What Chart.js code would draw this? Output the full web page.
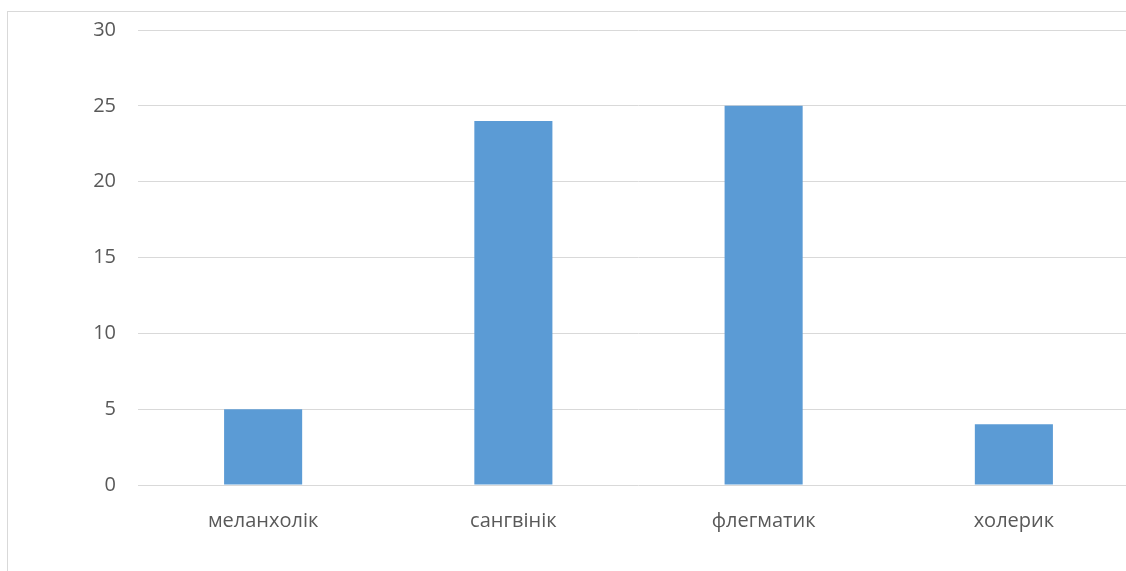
<!DOCTYPE html>
<html>
<head>
<meta charset="utf-8">
<script src="https://cdn.jsdelivr.net/npm/chart.js@4"></script>
<style>
  body { margin: 0; overflow: hidden; background: #fff; }
  #frame { position: absolute; left: 7px; top: 11px; width: 1300px; height: 700px; border: 1px solid #d9d9d9; }
  #mainChart { position: absolute; left: 0; top: -4px; }
</style>
</head>
<body>
<div id="frame"></div>
<canvas id="mainChart" width="1140" height="575"></canvas>
<script>
const categories = ['меланхолік', 'сангвінік', 'флегматик', 'холерик'];
const values = [5, 24, 25, 4];
const yTicks = [0, 5, 10, 15, 20, 25, 30];

const config = {
  type: 'bar',
  data: {
    labels: categories,
    datasets: [{
      data: values,
      backgroundColor: '#5b9bd5',
      categoryPercentage: 1,
      barPercentage: 0.312
    }]
  },
  options: {
    responsive: false,
    animation: false,
    layout: { padding: { top: 23, right: 1, left: 0, bottom: 0 } },
    plugins: { legend: { display: false }, tooltip: { enabled: false } },
    scales: {
      x: {
        grid: { display: false },
        border: { display: false },
        ticks: { color: '#595959', font: { family: 'Open Sans', size: 20 }, padding: 16 },
        afterFit: function(scale) { scale.height = 86; }
      },
      y: {
        min: 0,
        max: 30,
        afterBuildTicks: function(scale) { scale.ticks = yTicks.map(v => ({ value: v })); },
        grid: { color: '#d9d9d9', lineWidth: 1, drawTicks: false },
        border: { display: false },
        ticks: { color: '#595959', font: { family: 'Open Sans', size: 20 }, padding: 22 },
        afterFit: function(scale) { scale.width = 138; }
      }
    }
  }
};

new Chart(document.getElementById('mainChart'), config);
</script>
</body>
</html>
